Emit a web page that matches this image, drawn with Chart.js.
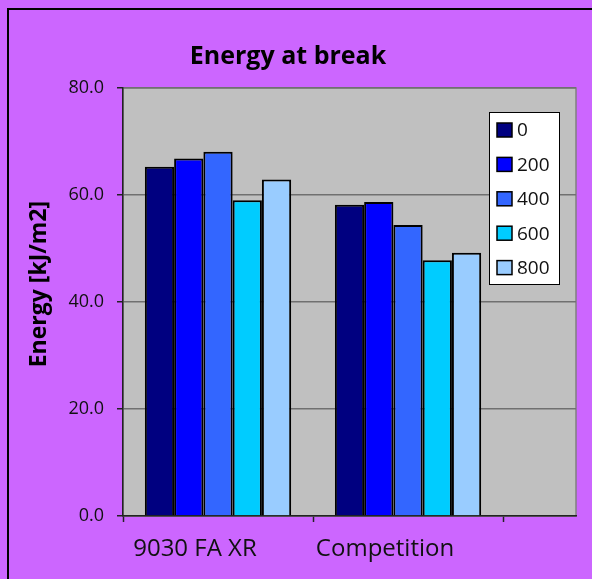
<!DOCTYPE html>
<html>
<head>
<meta charset="utf-8">
<script src="https://cdn.jsdelivr.net/npm/chart.js@4/dist/chart.umd.min.js"></script>
<style>
  html, body { margin: 0; padding: 0; background: #cc66ff; overflow: hidden; }
  .frame { position: absolute; left: 7px; top: 8px; width: 700px; height: 700px;
           border-left: 2px solid #000; border-top: 2px solid #000; pointer-events: none; }
  canvas { position: absolute; left: 0; top: 0; }
</style>
</head>
<body>
<canvas id="chart" width="592" height="579"></canvas>
<div class="frame"></div>
<script>
// categories (the third slot is empty in the original sheet)
const categories = ['9030 FA XR', 'Competition', ''];
const seriesNames = ['0', '200', '400', '600', '800'];
const seriesColors = ['#000080', '#0000ff', '#3366ff', '#00ccff', '#99ccff'];
const energy0 = [65.3, 58.2];
const energy200 = [66.8, 58.7];
const energy400 = [68.1, 54.4];
const energy600 = [59.0, 47.8];
const energy800 = [62.9, 49.2];
const yTicks = [0, 20, 40, 60, 80];

const FONT = '"Open Sans", "DejaVu Sans", sans-serif';
const allSeries = [energy0, energy200, energy400, energy600, energy800];

const datasets = allSeries.map((vals, k) => ({
    label: seriesNames[k],
    data: vals.map((v, i) => ({ x: i, y: v })),
    backgroundColor: seriesColors[k],
    borderColor: '#000',
    borderWidth: 2,
    categoryPercentage: 0.77,
    barPercentage: 1.0
}));

// grey plot background
const plotBg = {
    id: 'plotBg',
    beforeDraw(chart) {
        const a = chart.chartArea, ctx = chart.ctx;
        ctx.save();
        ctx.fillStyle = '#c0c0c0';
        ctx.fillRect(a.left, a.top, a.right - a.left, a.bottom - a.top);
        ctx.strokeStyle = '#808080';
        ctx.lineWidth = 1.5;
        ctx.strokeRect(a.left, a.top, a.right - a.left, a.bottom - a.top);
        ctx.restore();
    }
};

// boxed legend inside the plot, like the Excel one
const boxLegend = {
    id: 'boxLegend',
    afterDraw(chart) {
        const a = chart.chartArea, ctx = chart.ctx;
        const x = a.right - 87, y = a.top + 24, w = 70, h = 172;
        ctx.save();
        ctx.fillStyle = '#fff';
        ctx.fillRect(x, y, w, h);
        ctx.strokeStyle = '#000';
        ctx.lineWidth = 1;
        ctx.strokeRect(x + 0.5, y + 0.5, w, h);
        ctx.font = '19px ' + FONT;
        ctx.textBaseline = 'middle';
        chart.data.datasets.forEach((ds, i) => {
            const cy = y + 18 + i * 34.4;
            ctx.fillStyle = ds.backgroundColor;
            ctx.fillRect(x + 8, cy - 7, 15, 14);
            ctx.lineWidth = 1.5;
            ctx.strokeRect(x + 8, cy - 7, 15, 14);
            ctx.fillStyle = '#111';
            ctx.fillText(ds.label, x + 28, cy + 1);
        });
        ctx.restore();
    }
};

new Chart(document.getElementById('chart'), {
    type: 'bar',
    data: { datasets: datasets },
    options: {
        responsive: false,
        animation: false,
        layout: { padding: { left: 0, right: 16, top: 0, bottom: 0 } },
        plugins: {
            legend: { display: false },
            tooltip: { enabled: false },
            title: {
                display: true,
                text: 'Energy at break',
                color: '#000',
                font: { family: FONT, size: 25, weight: 'bold' },
                padding: { top: 42, bottom: 16 }
            }
        },
        scales: {
            x: {
                type: 'linear',
                min: -0.5,
                max: 1.884,
                offset: false,
                bounds: 'data',
                afterBuildTicks: s => { s.ticks = categories.map((c, i) => ({ value: i - 0.5 })); },
                afterFit: s => { s.height = 63; },
                ticks: {
                    callback: (v, i) => categories[i],
                    labelOffset: 72,
                    maxRotation: 0,
                    autoSkip: false,
                    padding: 13,
                    color: '#111',
                    font: { family: FONT, size: 24 }
                },
                grid: { offset: false, drawOnChartArea: false, tickLength: 6, tickColor: '#222', tickWidth: 1.5 },
                border: { color: '#222', width: 1.5 }
            },
            y: {
                min: 0,
                max: 80,
                afterBuildTicks: s => { s.ticks = yTicks.map(v => ({ value: v })); },
                afterFit: s => { s.width = 123; },
                ticks: {
                    callback: v => v.toFixed(1),
                    padding: 13,
                    color: '#111',
                    font: { family: FONT, size: 18 }
                },
                grid: { color: '#707070', lineWidth: 1.5, tickLength: 6, tickColor: '#222' },
                border: { color: '#222', width: 1.5 },
                title: {
                    display: true,
                    text: '      Energy [kJ/m2]',
                    color: '#000',
                    font: { family: FONT, size: 23, weight: 'bold' },
                    padding: { top: 26, bottom: 0 }
                }
            }
        }
    },
    plugins: [plotBg, boxLegend]
});
</script>
</body>
</html>
